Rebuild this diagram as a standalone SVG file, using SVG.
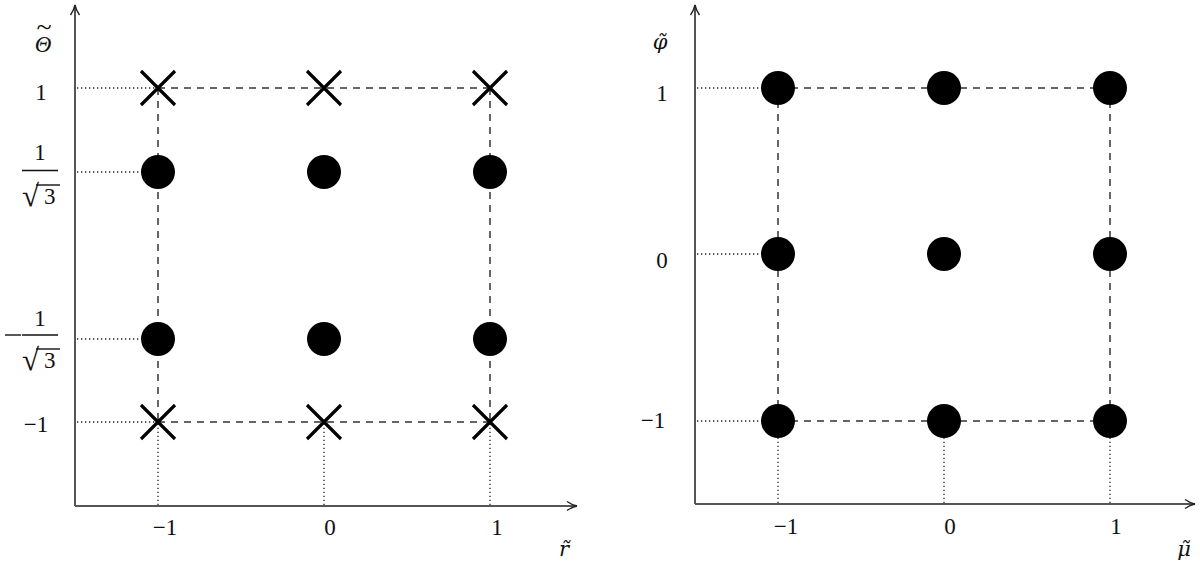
<svg xmlns="http://www.w3.org/2000/svg" width="1200" height="567" viewBox="0 0 1200 567">
<defs>
<style>
.axis{stroke:#555;stroke-width:2;fill:none}
.dash{stroke:#333;stroke-width:1.5;stroke-dasharray:7 6;fill:none}
.dot{stroke:#222;stroke-width:1.3;stroke-dasharray:1.3 2.7;fill:none}
.pt{fill:#000}
.x{stroke:#000;stroke-width:3.2;fill:none;stroke-linecap:butt}
.t{font-family:"Liberation Serif",serif;font-size:23px;fill:#111}
.v{font-family:"DejaVu Serif",serif;font-size:21px;font-style:italic;fill:#111;text-anchor:middle}
.m{text-anchor:middle}
.tl{font-style:normal;font-size:28px}
.rad{font-size:31px}
.bar{stroke:#111;stroke-width:1.4}
</style>
<marker id="arr" viewBox="0 0 12 12" refX="11" refY="6" markerWidth="12" markerHeight="12" markerUnits="userSpaceOnUse" orient="auto">
<path d="M1,1.5 Q6,5 11,6 Q6,7 1,10.5" fill="none" stroke="#222" stroke-width="1.4"/>
</marker>
</defs>
<rect width="1200" height="567" fill="#fff"/>

<g id="connectors">
<!-- left panel -->
<line class="axis" x1="75" y1="506" x2="75" y2="5" marker-end="url(#arr)"/>
<line class="axis" x1="75" y1="506" x2="577" y2="506" marker-end="url(#arr)"/>
<line class="dot" x1="77" y1="88" x2="158" y2="88"/>
<line class="dot" x1="77" y1="172" x2="158" y2="172"/>
<line class="dot" x1="77" y1="339" x2="158" y2="339"/>
<line class="dot" x1="77" y1="422" x2="158" y2="422"/>
<line class="dot" x1="158" y1="505" x2="158" y2="422"/>
<line class="dot" x1="324" y1="505" x2="324" y2="422"/>
<line class="dot" x1="490" y1="505" x2="490" y2="422"/>
<line class="dash" x1="158" y1="88" x2="490" y2="88"/>
<line class="dash" x1="158" y1="422" x2="490" y2="422"/>
<line class="dash" x1="158" y1="88" x2="158" y2="422"/>
<line class="dash" x1="490" y1="88" x2="490" y2="422"/>
<!-- right panel -->
<line class="axis" x1="695" y1="504" x2="695" y2="5" marker-end="url(#arr)"/>
<line class="axis" x1="695" y1="504" x2="1195" y2="504" marker-end="url(#arr)"/>
<line class="dot" x1="697" y1="88" x2="778" y2="88"/>
<line class="dot" x1="697" y1="254" x2="778" y2="254"/>
<line class="dot" x1="697" y1="421" x2="778" y2="421"/>
<line class="dot" x1="778" y1="503" x2="778" y2="421"/>
<line class="dot" x1="944" y1="503" x2="944" y2="421"/>
<line class="dot" x1="1110" y1="503" x2="1110" y2="421"/>
<line class="dash" x1="778" y1="88" x2="1110" y2="88"/>
<line class="dash" x1="778" y1="421" x2="1110" y2="421"/>
<line class="dash" x1="778" y1="88" x2="778" y2="421"/>
<line class="dash" x1="1110" y1="88" x2="1110" y2="421"/>
</g>

<g id="left-points">
<path class="x" d="M141,71 L175,105 M175,71 L141,105"/>
<path class="x" d="M307,71 L341,105 M341,71 L307,105"/>
<path class="x" d="M473,71 L507,105 M507,71 L473,105"/>
<circle class="pt" cx="158" cy="172" r="17"/>
<circle class="pt" cx="324" cy="172" r="17"/>
<circle class="pt" cx="490" cy="172" r="17"/>
<circle class="pt" cx="158" cy="339" r="17"/>
<circle class="pt" cx="324" cy="339" r="17"/>
<circle class="pt" cx="490" cy="339" r="17"/>
<path class="x" d="M141,405 L175,439 M175,405 L141,439"/>
<path class="x" d="M307,405 L341,439 M341,405 L307,439"/>
<path class="x" d="M473,405 L507,439 M507,405 L473,439"/>
</g>

<g id="right-points">
<circle class="pt" cx="778" cy="88" r="17"/>
<circle class="pt" cx="944" cy="88" r="17"/>
<circle class="pt" cx="1110" cy="88" r="17"/>
<circle class="pt" cx="778" cy="254" r="17"/>
<circle class="pt" cx="944" cy="254" r="17"/>
<circle class="pt" cx="1110" cy="254" r="17"/>
<circle class="pt" cx="778" cy="421" r="17"/>
<circle class="pt" cx="944" cy="421" r="17"/>
<circle class="pt" cx="1110" cy="421" r="17"/>
</g>

<g id="left-labels">
<text class="t m" font-style="italic" font-size="25"><tspan x="43" y="52">Θ</tspan><tspan class="tl" x="44" y="36">~</tspan></text>
<text class="t m" x="41" y="100">1</text>
<text class="t m" x="40" y="160">1</text>
<line class="bar" x1="22" y1="170.5" x2="58" y2="170.5"/>
<text class="t"><tspan class="rad" x="22" y="206">√</tspan><tspan x="44" y="204">3</tspan></text>
<line class="bar" x1="36" y1="185" x2="60" y2="185"/>
<line class="bar" x1="5" y1="335" x2="21" y2="335"/>
<text class="t m" x="40" y="326">1</text>
<line class="bar" x1="22" y1="335" x2="58" y2="335"/>
<text class="t"><tspan class="rad" x="22" y="370">√</tspan><tspan x="44" y="368">3</tspan></text>
<line class="bar" x1="36" y1="349" x2="60" y2="349"/>
<text class="t m" x="36" y="432">−1</text>
<text class="t m" x="165" y="535">−1</text>
<text class="t m" x="330" y="535">0</text>
<text class="t m" x="497" y="535">1</text>
<text class="v" x="564" y="556">r̃</text>
</g>

<g id="right-labels">
<text class="v" x="660" y="49">φ̃</text>
<text class="t m" x="662" y="101">1</text>
<text class="t m" x="662" y="268">0</text>
<text class="t m" x="653" y="428">−1</text>
<text class="t m" x="786" y="534">−1</text>
<text class="t m" x="950" y="534">0</text>
<text class="t m" x="1116" y="534">1</text>
<text class="v" x="1184" y="556">μ̃</text>
</g>
</svg>
